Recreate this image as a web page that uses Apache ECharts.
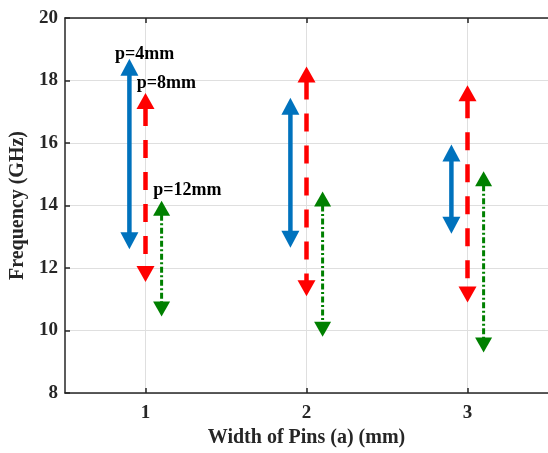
<!DOCTYPE html>
<html>
<head>
<meta charset="utf-8">
<script src="https://cdn.jsdelivr.net/npm/echarts@6/dist/echarts.min.js"></script>
<style>
html,body{margin:0;padding:0;background:#fff;}
#chart{width:548px;height:453px;}
</style>
</head>
<body>
<div id="chart"></div>
<script>
// ---- data ----
var xTicks = [1, 2, 3];
var yTicks = [8, 10, 12, 14, 16, 18, 20];

var xP4 = [0.9, 1.9, 2.9];
var lowP4 = [12.6, 12.65, 13.1];
var highP4 = [18.7, 17.45, 15.95];

var xP8 = [1.0, 2.0, 3.0];
var lowP8 = [11.55, 11.1, 10.9];
var highP8 = [17.6, 18.45, 17.85];

var xP12 = [1.1, 2.1, 3.1];
var lowP12 = [10.45, 9.8, 9.3];
var highP12 = [14.15, 14.45, 15.1];

var labelText = ['p=4mm', 'p=8mm', 'p=12mm'];
var labelX = [0.81, 0.945, 1.048];
var labelY = [18.85, 17.92, 14.5];

function zip(xs, lo, hi) {
  return xs.map(function (x, i) { return [x, lo[i], hi[i]]; });
}

function arrowRenderer(style) {
  return function (params, api) {
    var top = api.coord([api.value(0), api.value(2)]);
    var bot = api.coord([api.value(0), api.value(1)]);
    var x = top[0];
    var W = style.headW / 2, H = style.headH;
    return {
      type: 'group',
      children: [
        {
          type: 'line',
          shape: { x1: x, y1: top[1] + H - 1, x2: x, y2: bot[1] - H + 1 },
          style: { stroke: style.color, lineWidth: style.lineWidth, lineDash: style.dash, lineCap: 'butt' }
        },
        {
          type: 'polygon',
          shape: { points: [[x, top[1]], [x - W, top[1] + H], [x + W, top[1] + H]] },
          style: { fill: style.color }
        },
        {
          type: 'polygon',
          shape: { points: [[x, bot[1]], [x - W, bot[1] - H], [x + W, bot[1] - H]] },
          style: { fill: style.color }
        }
      ]
    };
  };
}

var chart = echarts.init(document.getElementById('chart'), null, { renderer: 'canvas' });
var fontFam = '"Liberation Serif", "Times New Roman", serif';
var axisCol = '#262626';

var option = {
  backgroundColor: '#ffffff',
  animation: false,
  grid: {
    left: 64, top: 18, width: 486, height: 375, show: false
  },
  xAxis: [{
    type: 'value', min: 0.5, max: 3.5, interval: 0.5, position: 'bottom',
    name: 'Width of Pins (a) (mm)', nameLocation: 'middle', nameGap: 30,
    nameTextStyle: { fontFamily: fontFam, fontWeight: 'bold', fontSize: 20, color: axisCol },
    axisLine: { show: true, onZero: false, lineStyle: { color: axisCol, width: 1.5 } },
    axisTick: {
      show: true, inside: true, length: 5, lineStyle: { color: axisCol, width: 1.5 },
      customValues: xTicks
    },
    axisLabel: {
      fontFamily: fontFam, fontWeight: 'bold', fontSize: 19, color: axisCol, margin: 11,
      customValues: xTicks
    },
    splitLine: { show: true, lineStyle: { color: '#dfdfdf', width: 1 } }
  }, {
    type: 'value', min: 0.5, max: 3.5, interval: 0.5, position: 'top',
    axisLine: { show: true, onZero: false, lineStyle: { color: axisCol, width: 1.5 } },
    axisTick: {
      show: true, inside: true, length: 5, lineStyle: { color: axisCol, width: 1.5 },
      customValues: xTicks
    },
    axisLabel: { show: false },
    splitLine: { show: false }
  }],
  yAxis: {
    type: 'value', min: 8, max: 20, interval: 2,
    name: 'Frequency (GHz)', nameLocation: 'middle', nameGap: 37, nameRotate: 90,
    nameTextStyle: { fontFamily: fontFam, fontWeight: 'bold', fontSize: 20, color: axisCol },
    axisLine: { show: true, lineStyle: { color: axisCol, width: 1.5 } },
    axisTick: { show: true, inside: true, length: 5, lineStyle: { color: axisCol, width: 1.5 } },
    axisLabel: { fontFamily: fontFam, fontWeight: 'bold', fontSize: 19, color: axisCol, margin: 7 },
    splitLine: { show: true, lineStyle: { color: '#dfdfdf', width: 1 } }
  },
  series: [
    {
      type: 'custom', name: 'p=4mm',
      data: zip(xP4, lowP4, highP4),
      encode: { x: 0, y: [1, 2] },
      renderItem: arrowRenderer({ color: '#0072BD', lineWidth: 4.5, dash: null, headW: 18, headH: 17 }),
      z: 5
    },
    {
      type: 'custom', name: 'p=8mm',
      data: zip(xP8, lowP8, highP8),
      encode: { x: 0, y: [1, 2] },
      renderItem: arrowRenderer({ color: '#FF0000', lineWidth: 4.5, dash: [18, 14], headW: 18, headH: 16 }),
      z: 5
    },
    {
      type: 'custom', name: 'p=12mm',
      data: zip(xP12, lowP12, highP12),
      encode: { x: 0, y: [1, 2] },
      renderItem: arrowRenderer({ color: '#008000', lineWidth: 3, dash: [6, 2.5, 2, 2.5], headW: 17, headH: 15 }),
      z: 5
    },
    {
      type: 'custom', name: 'labels',
      data: labelText.map(function (t, i) { return [labelX[i], labelY[i], i]; }),
      encode: { x: 0, y: 1 },
      renderItem: function (params, api) {
        var p = api.coord([api.value(0), api.value(1)]);
        return {
          type: 'text',
          x: p[0], y: p[1],
          style: {
            text: labelText[api.value(2)],
            fontFamily: fontFam, fontWeight: 'bold', fontSize: 18,
            fill: '#000000', align: 'left', verticalAlign: 'middle'
          }
        };
      },
      z: 6
    }
  ]
};
chart.setOption(option);
</script>
</body>
</html>
